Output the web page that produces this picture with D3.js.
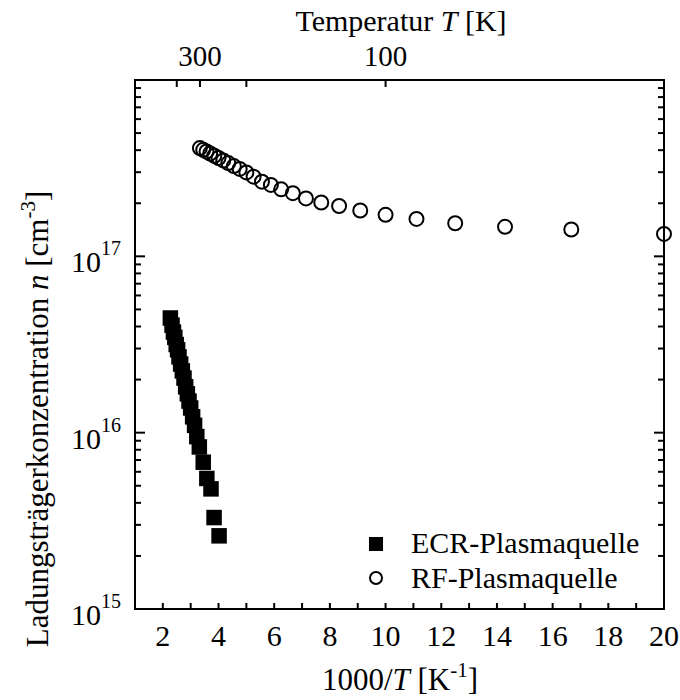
<!DOCTYPE html>
<html>
<head>
<meta charset="utf-8">
<script src="https://cdn.jsdelivr.net/npm/d3@7"></script>
<style>
  html, body { margin: 0; padding: 0; background: #fff; }
</style>
</head>
<body>
<svg id="chart" width="680" height="700" font-family="'Liberation Serif', 'Times New Roman', Times, 'DejaVu Serif', serif"></svg>
<script>
// ---- data ----
const ecrX = [2.27, 2.33, 2.38, 2.43, 2.48, 2.53, 2.58, 2.64, 2.70, 2.76, 2.82, 2.88, 2.94, 3.00, 3.07, 3.14, 3.22, 3.31, 3.45, 3.58, 3.73, 3.84, 4.02];
const ecrN = [4.47e16, 4.07e16, 3.72e16, 3.47e16, 3.16e16, 2.95e16, 2.69e16, 2.45e16, 2.24e16, 2.04e16, 1.82e16, 1.66e16, 1.51e16, 1.38e16, 1.23e16, 1.10e16, 9.5e15, 8.3e15, 6.8e15, 5.5e15, 4.8e15, 3.3e15, 2.6e15];
const rfX = [3.33, 3.45, 3.57, 3.70, 3.85, 4.00, 4.17, 4.35, 4.55, 4.76, 5.00, 5.26, 5.56, 5.88, 6.25, 6.67, 7.14, 7.69, 8.33, 9.09, 10.0, 11.11, 12.5, 14.29, 16.67, 20.0];
const rfN = [4.11e17, 4.02e17, 3.93e17, 3.83e17, 3.72e17, 3.61e17, 3.50e17, 3.38e17, 3.25e17, 3.13e17, 2.99e17, 2.83e17, 2.65e17, 2.54e17, 2.40e17, 2.28e17, 2.13e17, 2.02e17, 1.93e17, 1.82e17, 1.72e17, 1.63e17, 1.54e17, 1.47e17, 1.42e17, 1.34e17];
const xTickValues = [2, 3, 4, 5, 6, 7, 8, 9, 10, 11, 12, 13, 14, 15, 16, 17, 18, 19, 20];
const xTickLabels = [2, 4, 6, 8, 10, 12, 14, 16, 18, 20];
const topTempTicks = [400, 300, 200, 100];
const topTempLabels = [300, 100];
const yLabelExps = [15, 16, 17];
const seriesNames = ["ECR-Plasmaquelle", "RF-Plasmaquelle"];

// ---- layout ----
const L = 135, R = 664, T = 80, B = 609;
const svg = d3.select("#chart");
const x = d3.scaleLinear().domain([1, 20]).range([L, R]);
const y = d3.scaleLog().domain([1e15, 1e18]).range([B, T]);

const yMajors = [1e16, 1e17];
const yMinors = [];
for (let e = 15; e < 18; e++) for (let m = 2; m <= 9; m++) yMinors.push(m * Math.pow(10, e));

const g = svg.append("g");
const tickStroke = 2;

// bottom ticks (inward)
g.append("g").selectAll("line").data(xTickValues).join("line")
  .attr("x1", d => x(d)).attr("x2", d => x(d))
  .attr("y1", B).attr("y2", B - 6)
  .attr("stroke", "#000").attr("stroke-width", tickStroke);
g.append("g").selectAll("text").data(xTickLabels).join("text")
  .attr("x", d => x(d)).attr("y", 646)
  .attr("text-anchor", "middle").attr("font-size", 30)
  .text(d => d);

// top ticks: temperature
g.append("g").selectAll("line").data(topTempTicks).join("line")
  .attr("x1", d => x(1000 / d)).attr("x2", d => x(1000 / d))
  .attr("y1", T).attr("y2", T + 7)
  .attr("stroke", "#000").attr("stroke-width", tickStroke);
g.append("g").selectAll("text").data(topTempLabels).join("text")
  .attr("x", d => x(1000 / d)).attr("y", 66)
  .attr("text-anchor", "middle").attr("font-size", 29)
  .text(d => d);

// left & right ticks
[[L, 1], [R, -1]].forEach(([x0, dir]) => {
  g.append("g").selectAll("line").data(yMinors).join("line")
    .attr("x1", x0).attr("x2", x0 + dir * 6)
    .attr("y1", d => y(d)).attr("y2", d => y(d))
    .attr("stroke", "#000").attr("stroke-width", tickStroke);
  g.append("g").selectAll("line").data(yMajors).join("line")
    .attr("x1", x0).attr("x2", x0 + dir * 10)
    .attr("y1", d => y(d)).attr("y2", d => y(d))
    .attr("stroke", "#000").attr("stroke-width", tickStroke);
});

// y tick labels 10^n
const yl = g.append("g").selectAll("g").data(yLabelExps).join("g");
yl.append("text")
  .attr("x", 101).attr("y", d => y(Math.pow(10, d)) + 16)
  .attr("text-anchor", "end").attr("font-size", 30).text("10");
yl.append("text")
  .attr("x", 101).attr("y", d => y(Math.pow(10, d)) - 1)
  .attr("text-anchor", "start").attr("font-size", 20).text(d => d);

// frame
g.append("rect").attr("x", L).attr("y", T).attr("width", R - L).attr("height", B - T)
  .attr("fill", "none").attr("stroke", "#000").attr("stroke-width", 2);

// ECR squares
const sq = 15.5;
g.append("g").selectAll("rect").data(ecrX.map((d, i) => [d, ecrN[i]])).join("rect")
  .attr("x", d => x(d[0]) - sq / 2).attr("y", d => y(d[1]) - sq / 2)
  .attr("width", sq).attr("height", sq).attr("fill", "#000");

// RF circles
g.append("g").selectAll("circle").data(rfX.map((d, i) => [d, rfN[i]])).join("circle")
  .attr("cx", d => x(d[0])).attr("cy", d => y(d[1])).attr("r", 7)
  .attr("fill", "none").attr("stroke", "#000").attr("stroke-width", 2);

// legend
g.append("rect").attr("x", 369).attr("y", 537).attr("width", 14).attr("height", 14).attr("fill", "#000");
g.append("circle").attr("cx", 376).attr("cy", 578).attr("r", 6).attr("fill", "none").attr("stroke", "#000").attr("stroke-width", 2);
g.append("text").attr("x", 411).attr("y", 553).attr("font-size", 30).text(seriesNames[0]);
g.append("text").attr("x", 411).attr("y", 588).attr("font-size", 30).text(seriesNames[1]);

// axis titles
const tt = g.append("text").attr("x", 401).attr("y", 31).attr("text-anchor", "middle").attr("font-size", 30);
tt.append("tspan").text("Temperatur ");
tt.append("tspan").attr("font-style", "italic").text("T");
tt.append("tspan").text(" [K]");

const bt = g.append("text").attr("x", 400).attr("y", 690).attr("text-anchor", "middle").attr("font-size", 31);
bt.append("tspan").text("1000/");
bt.append("tspan").attr("font-style", "italic").text("T");
bt.append("tspan").text(" [K");
bt.append("tspan").attr("font-size", 21).attr("dy", -13).text("-1");
bt.append("tspan").attr("dy", 13).text("]");

const lt = g.append("text").attr("transform", "translate(48,419) rotate(-90)")
  .attr("text-anchor", "middle").attr("font-size", 31);
lt.append("tspan").text("Ladungsträgerkonzentration ");
lt.append("tspan").attr("font-style", "italic").text("n");
lt.append("tspan").text(" [cm");
lt.append("tspan").attr("font-size", 21).attr("dy", -13).text("-3");
lt.append("tspan").attr("dy", 13).text("]");
</script>
</body>
</html>
